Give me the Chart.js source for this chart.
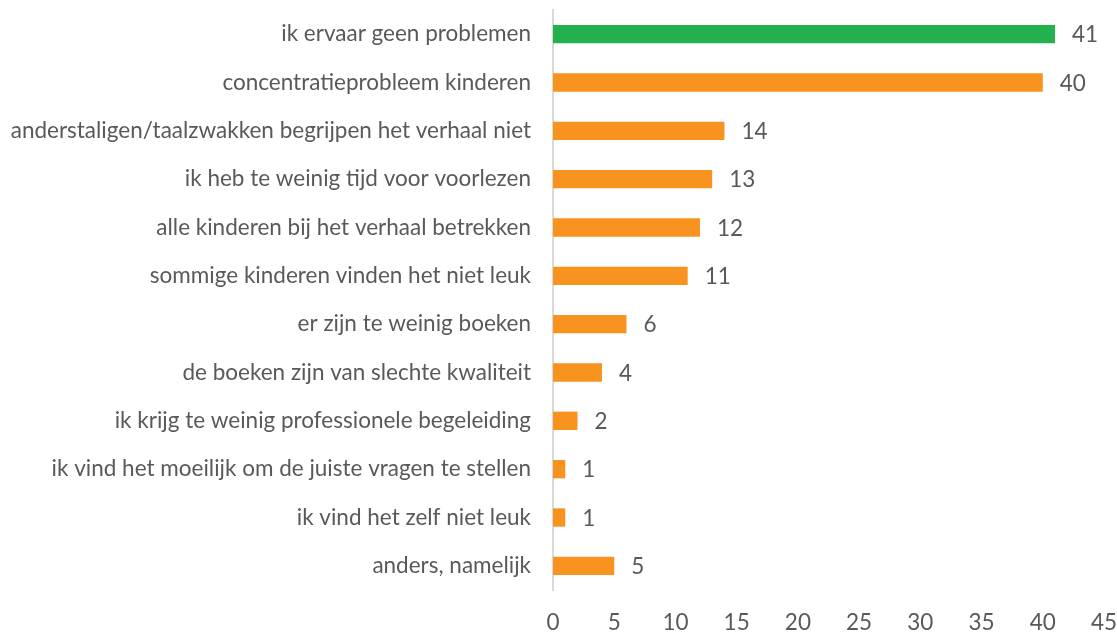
<!DOCTYPE html>
<html>
<head>
<meta charset="utf-8">
<script src="https://cdn.jsdelivr.net/npm/chart.js@4/dist/chart.umd.min.js"></script>
<style>
  html, body { margin: 0; padding: 0; background: #fff; }
  #wrap { width: 1117px; height: 633px; }
</style>
</head>
<body>
<div id="wrap"><canvas id="chart"></canvas></div>
<script>
const labels = [
  "ik ervaar geen problemen",
  "concentratieprobleem kinderen",
  "anderstaligen/taalzwakken begrijpen het verhaal niet",
  "ik heb te weinig tijd voor voorlezen",
  "alle kinderen bij het verhaal betrekken",
  "sommige kinderen vinden het niet leuk",
  "er zijn te weinig boeken",
  "de boeken zijn van slechte kwaliteit",
  "ik krijg te weinig professionele begeleiding",
  "ik vind het moeilijk om de juiste vragen te stellen",
  "ik vind het zelf niet leuk",
  "anders, namelijk"
];
const values = [41, 40, 14, 13, 12, 11, 6, 4, 2, 1, 1, 5];
const barColors = ["#23b14d", "#f7931e", "#f7931e", "#f7931e", "#f7931e", "#f7931e",
  "#f7931e", "#f7931e", "#f7931e", "#f7931e", "#f7931e", "#f7931e"];

const textColor = "#595959";
const fontFamily = "Lato, sans-serif";
const fontSize = 22.5;

// draws the numbers next to the bars
const valueLabels = {
  id: "valueLabels",
  afterDatasetsDraw(chart) {
    const ctx = chart.ctx;
    const meta = chart.getDatasetMeta(0);
    ctx.save();
    ctx.fillStyle = textColor;
    ctx.font = fontSize + "px " + fontFamily;
    ctx.textAlign = "left";
    ctx.textBaseline = "middle";
    meta.data.forEach((bar, i) => {
      ctx.fillText(values[i], bar.x + 17, bar.y + 1);
    });
    ctx.restore();
  }
};

new Chart(document.getElementById("chart"), {
  type: "bar",
  data: {
    labels: labels,
    datasets: [{
      data: values,
      backgroundColor: barColors,
      barPercentage: 0.38,
      categoryPercentage: 1
    }]
  },
  options: {
    indexAxis: "y",
    responsive: true,
    maintainAspectRatio: false,
    animation: false,
    layout: { padding: { top: 10, right: 13, left: 0, bottom: 0 } },
    plugins: {
      legend: { display: false },
      tooltip: { enabled: false }
    },
    scales: {
      x: {
        min: 0,
        max: 45,
        ticks: { stepSize: 5, color: textColor, font: { size: fontSize, family: fontFamily }, padding: 11 },
        grid: { display: false },
        border: { display: false },
        afterFit(scale) {
          scale.height = 43;
          scale.paddingLeft = 0;
          scale.paddingRight = 0;
        }
      },
      y: {
        ticks: { color: textColor, font: { size: fontSize, family: fontFamily }, padding: 14 },
        grid: { display: false },
        border: { display: true, color: "#d9d9d9", width: 2 },
        afterFit(scale) {
          scale.width = 553;
          scale.paddingTop = 0;
          scale.paddingBottom = 0;
        }
      }
    }
  },
  plugins: [valueLabels]
});
</script>
</body>
</html>
